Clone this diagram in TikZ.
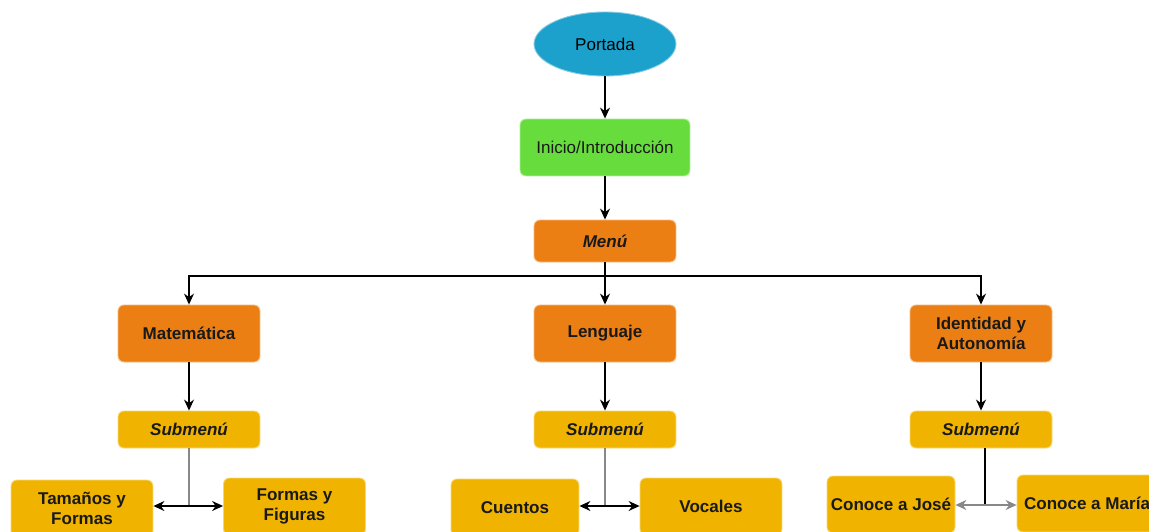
\documentclass[tikz,border=0pt]{standalone}
\usepackage{fontspec}
\setmainfont{Liberation Sans}
\definecolor{portblue}{RGB}{27,161,203}
\definecolor{iniciogreen}{RGB}{102,221,60}
\definecolor{menuorange}{RGB}{236,127,20}
\definecolor{subgold}{RGB}{240,180,0}
\definecolor{linkgray}{RGB}{136,136,136}
\usetikzlibrary{arrows.meta,positioning,shapes.geometric,calc}

\tikzset{
  box/.style={rectangle, rounded corners=0.12cm, inner sep=0pt, align=center,
    font=\fontsize{9.7}{11.5}\selectfont\bfseries, text=black!90},
  areabox/.style={box, fill=menuorange, draw=menuorange!55!white, line width=0.5pt,
    minimum width=2.84cm, minimum height=1.14cm},
  subbox/.style={box, fill=subgold, draw=subgold!55!white, line width=0.5pt,
    minimum width=2.84cm, minimum height=0.74cm, font=\fontsize{9.7}{11.5}\selectfont\bfseries\itshape},
  itembox/.style={box, fill=subgold, draw=subgold!55!white, line width=0.5pt,
    minimum width=2.84cm, minimum height=1.14cm},
  flow/.style={line width=0.8pt, -{Stealth[length=2.2mm,width=2mm]}},
  both/.style={line width=0.8pt, {Stealth[length=2.2mm,width=2mm]}-{Stealth[length=2.2mm,width=2mm]}},
  stem/.style={line width=1.1pt, linkgray}
}

\begin{document}
\begin{tikzpicture}[x=0.02cm, y=-0.02cm]
  \clip (0,0) rectangle (1149,531);
  \fill[white] (0,0) rectangle (1149,531);

  %% Top of the chart
  \node[ellipse, fill=portblue, draw=portblue!55!white, line width=0.5pt, minimum width=2.84cm,
        minimum height=1.28cm, inner sep=0pt, font=\fontsize{9.7}{11.5}\selectfont] (portada) at (605,44) {Portada};
  \node[box, fill=iniciogreen, draw=iniciogreen!55!white, line width=0.5pt, minimum width=3.4cm,
        minimum height=1.14cm, font=\fontsize{9.7}{11.5}\selectfont] (inicio) at (605,147.5) {Inicio/Introducción};
  \node[box, fill=menuorange, draw=menuorange!55!white, line width=0.5pt, minimum width=2.84cm,
        minimum height=0.84cm, font=\fontsize{9.7}{11.5}\selectfont\bfseries\itshape] (menu) at (605,241) {Menú};

  \draw[flow] (portada) -- (inicio);
  \draw[flow] (inicio) -- (menu);

  %% Areas
  \node[areabox] (mate)  at (189,333.5) {Matemática};
  \node[areabox] (leng)  at (605,333.5) {Lenguaje};
  \node[areabox] (ident) at (981,333.5) {Identidad y\\Autonomía};

  \coordinate (bus) at (605,276);
  \draw[line width=0.8pt] (menu.south) -- (bus);
  \draw[flow] (bus) -| (mate.north);
  \draw[flow] (bus) -- (leng.north);
  \draw[flow] (bus) -| (ident.north);

  %% Submenus
  \node[subbox] (subA) at (189,429.5) {Submenú};
  \node[subbox] (subB) at (605,429.5) {Submenú};
  \node[subbox] (subC) at (981,429.5) {Submenú};

  \draw[flow] (mate) -- (subA);
  \draw[flow] (leng) -- (subB);
  \draw[flow] (ident) -- (subC);

  %% Items
  \node[itembox] (tam)     at (82,508.5)  {Tamaños y\\Formas};
  \node[itembox] (formas)  at (294.5,506.5) {Formas y\\Figuras};
  \node[itembox, minimum width=2.56cm] (cuentos) at (515,507.5) {Cuentos};
  \node[itembox] (vocales) at (711,506.5) {Vocales};
  \node[itembox, minimum width=2.56cm] (jose) at (891,504.5) {Conoce a José};
  \node[itembox, minimum width=2.8cm] (maria) at (1087,503.5) {Conoce a María};

  \coordinate (jA) at (189,506);
  \coordinate (jB) at (605,506);
  \coordinate (jC) at (985,505);

  \draw[stem] (subA.south) -- (jA);
  \draw[stem] (subB.south) -- (jB);
  \draw[line width=0.8pt] (subC.south -| jC) -- (jC);

  \draw[both] (tam.east |- jA) -- (formas.west |- jA);
  \draw[both] (cuentos.east |- jB) -- (vocales.west |- jB);
  \draw[both, draw=linkgray] (jose.east |- jC) -- (maria.west |- jC);
\end{tikzpicture}
\end{document}
